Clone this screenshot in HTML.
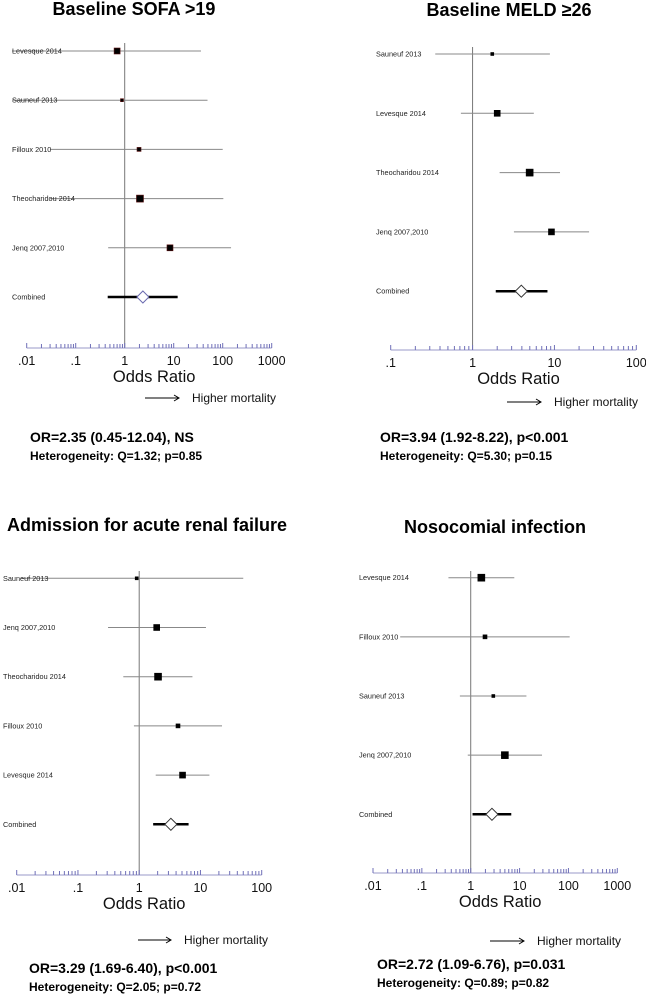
<!DOCTYPE html>
<html><head><meta charset="utf-8"><style>
html,body{margin:0;padding:0;background:#fff;}
svg{display:block;font-family:"Liberation Sans",Arial,sans-serif;}
</style></head><body>
<svg id="chart" width="646" height="995" viewBox="0 0 646 995"></svg>
<script>
// Panel 1: Baseline SOFA >19
const p1Studies = ["Levesque 2014","Sauneuf 2013","Filloux 2010","Theocharidou 2014","Jenq 2007,2010","Combined"];
const p1OR = [0.70, 0.88, 1.96, 2.05, 8.4, 2.35];
const p1Lo = [0.005, 0.005, 0.03, 0.03, 0.46, 0.45];
const p1Hi = [36, 49, 100, 103, 148, 12.04];
const p1Weight = [6, 3, 4, 7, 6, 0];
const p1Ticks = [".01",".1","1","10","100","1000"];
// Panel 2: Baseline MELD >=26
const p2Studies = ["Sauneuf 2013","Levesque 2014","Theocharidou 2014","Jenq 2007,2010","Combined"];
const p2OR = [1.74, 2.0, 4.98, 9.2, 3.94];
const p2Lo = [0.35, 0.72, 2.14, 3.2, 1.92];
const p2Hi = [8.8, 5.6, 11.7, 26.5, 8.22];
const p2Weight = [3, 6, 7, 6, 0];
const p2Ticks = [".1","1","10","100"];
// Panel 3: Admission for acute renal failure
const p3Studies = ["Sauneuf 2013","Jenq 2007,2010","Theocharidou 2014","Filloux 2010","Levesque 2014","Combined"];
const p3OR = [0.91, 1.93, 2.03, 4.3, 5.1, 3.29];
const p3Lo = [0.012, 0.31, 0.55, 0.82, 1.86, 1.69];
const p3Hi = [50, 12.3, 7.4, 22.5, 14, 6.40];
const p3Weight = [3, 6, 7, 4, 6, 0];
const p3Ticks = [".01",".1","1","10","100"];
// Panel 4: Nosocomial infection
const p4Studies = ["Levesque 2014","Filloux 2010","Sauneuf 2013","Jenq 2007,2010","Combined"];
const p4OR = [1.65, 1.96, 2.9, 5.0, 2.72];
const p4Lo = [0.35, 0.036, 0.6, 0.87, 1.09];
const p4Hi = [7.8, 106, 13.8, 28.8, 6.76];
const p4Weight = [7, 4, 3, 7, 0];
const p4Ticks = [".01",".1","1","10","100","1000"];

const svg = document.getElementById('chart');
const NS = 'http://www.w3.org/2000/svg';
function mk(tag, attrs, parent){
  const e = document.createElementNS(NS, tag);
  for (const k in attrs) e.setAttribute(k, attrs[k]);
  (parent||svg).appendChild(e);
  return e;
}
function txt(s, attrs, parent){ const t = mk('text', attrs, parent); t.textContent = s; return t; }

function panel(cfg, studies, ors, los, his, weights, ticks){
  const g = mk('g', {});
  
  
  const minLog = Math.log10(parseFloat(ticks[0]));
  const maxLog = Math.log10(parseFloat(ticks[ticks.length-1]));
  const xs = v => cfg.x0 + (Math.log10(v) - minLog) / (maxLog - minLog) * (cfg.x1 - cfg.x0);
  const ys = i => cfg.rowY0 + i * cfg.rowStep;
  const t = txt(cfg.title, {x: cfg.titleX, y: cfg.titleY, 'font-size': 18, 'font-weight': 'bold', 'text-anchor': cfg.titleAnchor || 'middle', fill: '#000'}, g);
  
  
  const ref = mk('line', {x1: xs(1), x2: xs(1), y1: cfg.refTop, y2: cfg.axisY, stroke: '#777', 'stroke-width': 1}, g);
  
  
  const ax = mk('line', {x1: cfg.x0, x2: cfg.x1, y1: cfg.axisY, y2: cfg.axisY, stroke: '#9a9ac8', 'stroke-width': 1}, g);
  
  
  for (let d = Math.round(minLog); d <= Math.round(maxLog); d++){
    const base = Math.pow(10, d);
    mk('line', {x1: xs(base), x2: xs(base), y1: cfg.axisY, y2: cfg.axisY - 5, stroke: '#7070b8', 'stroke-width': 1}, g);
    if (d < Math.round(maxLog)) for (let m = 2; m <= 9; m++){
      mk('line', {x1: xs(base*m), x2: xs(base*m), y1: cfg.axisY, y2: cfg.axisY - 4, stroke: '#7070b8', 'stroke-width': 1}, g);
    }
  }
  ticks.forEach(s => {
    const v = parseFloat(s);
    const tl = txt(s, {x: xs(v), y: cfg.axisY + 17, 'font-size': 12.5, 'text-anchor': 'middle', fill: '#111'}, g);
    
    
  });
  const xt = txt('Odds Ratio', {x: (cfg.x0+cfg.x1)/2 + 5, y: cfg.axisY + 34, 'font-size': 16.5, 'text-anchor': 'middle', fill: '#111'}, g);
  
  
  const ag = mk('g', {}, g);
  
  
  mk('line', {x1: cfg.arX1, x2: cfg.arX2, y1: cfg.arY, y2: cfg.arY, stroke: '#000', 'stroke-width': 1}, ag);
  mk('polyline', {points: `${cfg.arX2-5},${cfg.arY-3} ${cfg.arX2},${cfg.arY} ${cfg.arX2-5},${cfg.arY+3}`, fill: 'none', stroke: '#000', 'stroke-width': 1}, ag);
  txt('Higher mortality', {x: cfg.arX2 + 13, y: cfg.arY + 4, 'font-size': 12, fill: '#111'}, ag);
  studies.forEach((name, i) => {
    const y = ys(i);
    const rg = mk('g', {}, g);
    
    
    const isComb = i === studies.length - 1;
    const lx = Math.max(xs(los[i]), cfg.labelX);
    mk('line', {x1: lx, x2: xs(his[i]), y1: y, y2: y, stroke: isComb ? '#000' : '#888', 'stroke-width': isComb ? 2.5 : 1}, rg);
    txt(name, {x: cfg.labelX, y: y + 2.5, 'font-size': 7.3, fill: '#222'}, rg);
    if (isComb){
      const cx = xs(ors[i]);
      mk('polygon', {points: `${cx-6},${y} ${cx},${y-6} ${cx+6},${y} ${cx},${y+6}`, fill: '#fff', stroke: cfg.diamond, 'stroke-width': 1}, rg);
    } else {
      const s = weights[i];
      mk('rect', {x: xs(ors[i]) - s/2, y: y - s/2, width: s, height: s, fill: '#000', stroke: cfg.sqStroke, 'stroke-width': 0.6}, rg);
    }
  });
  const s1 = txt(cfg.summary, {x: cfg.sumX, y: cfg.sumY, 'font-size': 14, 'font-weight': 'bold', fill: '#000'}, g);
  
  
  const s2 = txt(cfg.het, {x: cfg.sumX, y: cfg.sumY + 18, 'font-size': 12, 'font-weight': 'bold', fill: '#000'}, g);
  
  
}

panel({name:'panel-baseline-sofa', title:'Baseline SOFA >19', titleX:134, titleY:15, x0:26.7, x1:271.7, axisY:348, refTop:43, rowY0:51, rowStep:49.2, labelX:12, arX1:145, arX2:179, arY:398, sumX:30, sumY:442, summary:'OR=2.35 (0.45-12.04), NS', het:'Heterogeneity:  Q=1.32;  p=0.85', diamond:'#6a6ab0', sqStroke:'#5a1010'},
  p1Studies, p1OR, p1Lo, p1Hi, p1Weight, p1Ticks);
panel({name:'panel-baseline-meld', title:'Baseline MELD \u226526', titleX:509, titleY:16, x0:390.7, x1:636.3, axisY:350, refTop:47, rowY0:54, rowStep:59.3, labelX:376, arX1:507, arX2:541, arY:402, sumX:380, sumY:442, summary:'OR=3.94 (1.92-8.22), p<0.001', het:'Heterogeneity:  Q=5.30;  p=0.15', diamond:'#333', sqStroke:'#000'},
  p2Studies, p2OR, p2Lo, p2Hi, p2Weight, p2Ticks);
panel({name:'panel-acute-renal-failure', title:'Admission for acute renal failure', titleX:7, titleAnchor:'start', titleY:531, x0:16.7, x1:261.7, axisY:875, refTop:571, rowY0:578.3, rowStep:49.2, labelX:3, arX1:138, arX2:171, arY:940, sumX:29, sumY:973, summary:'OR=3.29 (1.69-6.40), p<0.001', het:'Heterogeneity:  Q=2.05;  p=0.72', diamond:'#333', sqStroke:'#000'},
  p3Studies, p3OR, p3Lo, p3Hi, p3Weight, p3Ticks);
panel({name:'panel-nosocomial-infection', title:'Nosocomial infection', titleX:495, titleY:533, x0:373, x1:617.3, axisY:873, refTop:571, rowY0:577.7, rowStep:59.15, labelX:359, arX1:490, arX2:524, arY:941, sumX:377, sumY:969, summary:'OR=2.72 (1.09-6.76), p=0.031', het:'Heterogeneity:  Q=0.89;  p=0.82', diamond:'#333', sqStroke:'#000'},
  p4Studies, p4OR, p4Lo, p4Hi, p4Weight, p4Ticks);
</script>
</body></html>
